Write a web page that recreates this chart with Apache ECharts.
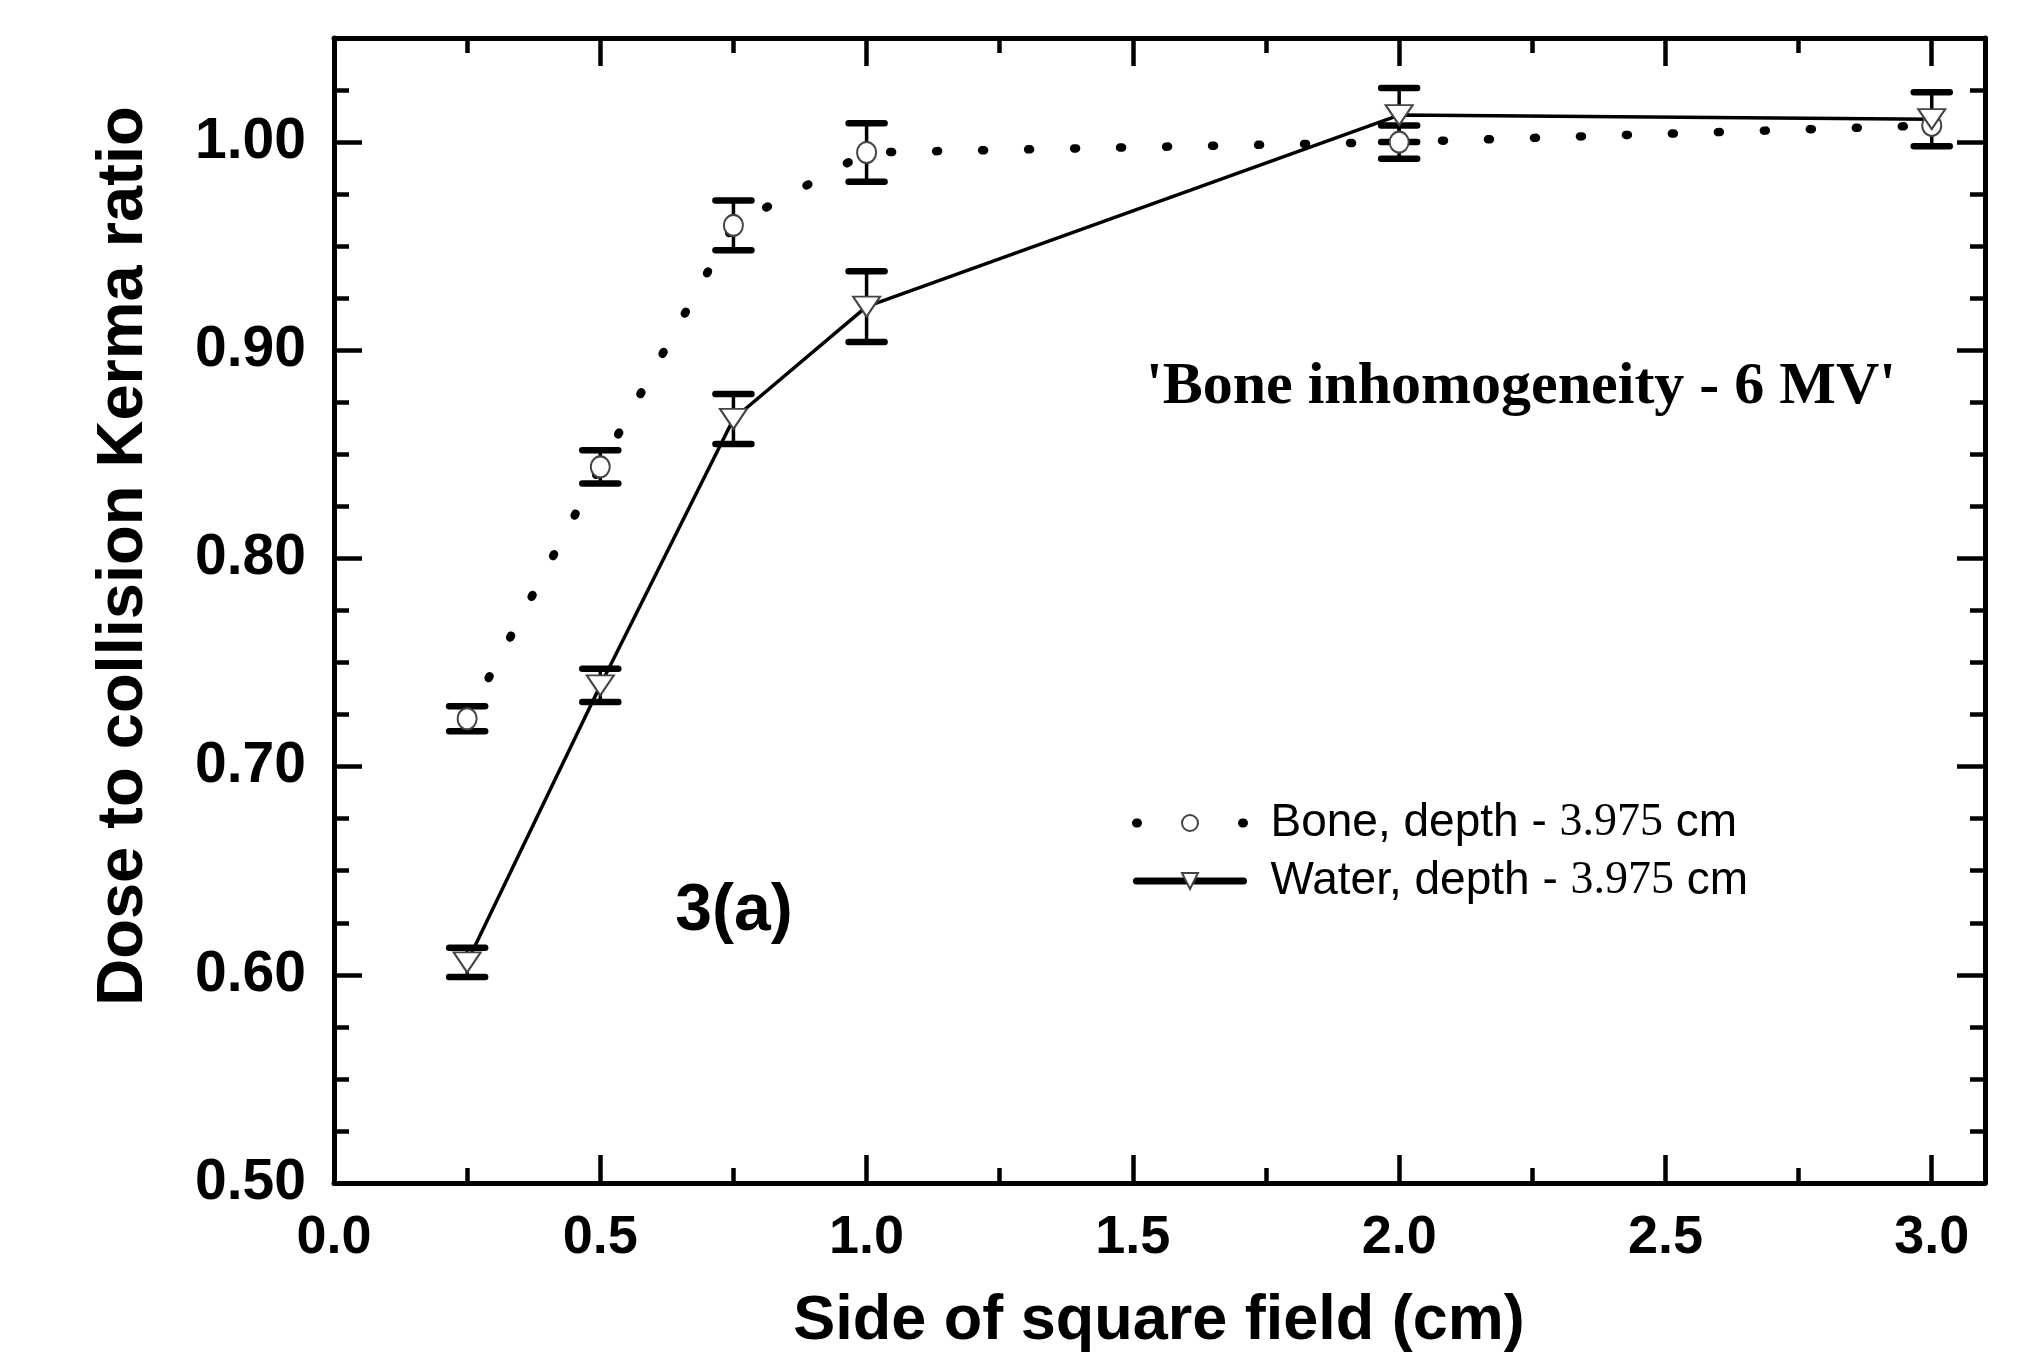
<!DOCTYPE html>
<html><head><meta charset="utf-8">
<script src="https://cdn.jsdelivr.net/npm/echarts@6/dist/echarts.min.js"></script>
<style>html,body{margin:0;padding:0;background:#fff}#c{width:2028px;height:1356px}</style>
</head><body><div id="c"></div>
<script>
// ---- data ----
const fieldSizes = [0.25, 0.5, 0.75, 1.0, 2.0, 3.0];
const boneRatio  = [0.723, 0.844, 0.960, 0.995, 1.000, 1.008];
const boneErr    = [0.006, 0.008, 0.012, 0.014, 0.008, null];
const waterRatio = [0.606, 0.739, 0.867, 0.921, 1.013, 1.011];
const waterErr   = [0.007, 0.008, 0.012, 0.017, 0.013, 0.013];
const seriesNames = ['Bone', 'Water'];
const depthCm = '3.975';
const xTickLabels = ['0.0', '0.5', '1.0', '1.5', '2.0', '2.5', '3.0'];
const yTickLabels = ['0.50', '0.60', '0.70', '0.80', '0.90', '1.00'];
const xTitle = 'Side of square field (cm)';
const yTitle = 'Dose to collision Kerma ratio';
const annotation = "'Bone inhomogeneity - 6 MV'";
const panelLabel = '3(a)';

const SANS = '"Liberation Sans", Arial, sans-serif';
const SERIF = '"Liberation Serif", "Times New Roman", serif';

function xAxisDef(position, interval, tickLen, withLine, withLabels) {
  return {
    type: 'value', position, min: 0, max: 3.1, interval,
    splitLine: { show: false },
    axisLine: { show: withLine, onZero: false, lineStyle: { color: '#000', width: 5 } },
    axisTick: { show: true, inside: true, length: tickLen, lineStyle: { color: '#000', width: 4.5 } },
    axisLabel: withLabels ? {
      show: true, margin: 28, showMaxLabel: false, color: '#000',
      fontFamily: SANS, fontWeight: 'bold', fontSize: 54,
      formatter: v => { const i = Math.round(v / 0.5); return xTickLabels[i] || ''; }
    } : { show: false }
  };
}
function yAxisDef(position, interval, tickLen, withLine, withLabels) {
  return {
    type: 'value', position, min: 0.5, max: 1.05, interval,
    splitLine: { show: false },
    axisLine: { show: withLine, onZero: false, lineStyle: { color: '#000', width: 5 } },
    axisTick: { show: true, inside: true, length: tickLen, lineStyle: { color: '#000', width: 4.5 } },
    axisLabel: withLabels ? {
      show: true, margin: 28, showMaxLabel: false, color: '#000',
      fontFamily: SANS, fontWeight: 'bold', fontSize: 57,
      formatter: v => { const i = Math.round((v - 0.5) / 0.1); return yTickLabels[i] || ''; }
    } : { show: false }
  };
}

function errorSeries(name, ys, errs) {
  const data = [];
  fieldSizes.forEach((x, i) => { if (errs[i] != null) data.push([x, ys[i] - errs[i], ys[i] + errs[i]]); });
  return {
    type: 'custom', name: name + ' error', data, z: 2, silent: true,
    encode: { x: 0, y: [1, 2] },
    renderItem: (params, api) => {
      const x = api.value(0), lo = api.value(1), hi = api.value(2);
      const t = api.coord([x, hi]), b = api.coord([x, lo]);
      const hw = 18;
      return { type: 'group', children: [
        { type: 'line', shape: { x1: t[0], y1: t[1], x2: b[0], y2: b[1] }, style: { stroke: '#000', lineWidth: 3.5 } },
        { type: 'line', shape: { x1: t[0] - hw, y1: t[1], x2: t[0] + hw, y2: t[1] }, style: { stroke: '#000', lineWidth: 6.5, lineCap: 'round' } },
        { type: 'line', shape: { x1: b[0] - hw, y1: b[1], x2: b[0] + hw, y2: b[1] }, style: { stroke: '#000', lineWidth: 6.5, lineCap: 'round' } }
      ]};
    }
  };
}

const chart = echarts.init(document.getElementById('c'), null, { renderer: 'canvas' });
chart.setOption({
  animation: false,
  backgroundColor: '#fff',
  grid: { left: 334, right: 43, top: 38, bottom: 173, containLabel: false },
  xAxis: [
    xAxisDef('bottom', 0.5, 28, true, true),
    xAxisDef('bottom', 0.25, 15, false, false),
    xAxisDef('top', 0.5, 28, true, false),
    xAxisDef('top', 0.25, 15, false, false)
  ],
  yAxis: [
    yAxisDef('left', 0.1, 28, true, true),
    yAxisDef('left', 0.025, 15, false, false),
    yAxisDef('right', 0.1, 28, true, false),
    yAxisDef('right', 0.025, 15, false, false)
  ],
  legend: {
    orient: 'vertical', left: 1132, top: 800, padding: 0, itemGap: 12,
    itemWidth: 107, itemHeight: 20, selectedMode: false,
    data: [
      { name: seriesNames[0], lineStyle: { color: '#000', width: 9, type: [1, 52], cap: 'round' } },
      { name: seriesNames[1], lineStyle: { color: '#000', width: 7, type: 'solid', cap: 'round' } }
    ],
    formatter: n => '{s|' + n + ', depth - }{t|' + depthCm + '}{s| cm}',
    textStyle: {
      color: '#000', fontSize: 46, lineHeight: 46, padding: [0, 0, 0, 22],
      rich: {
        s: { fontFamily: SANS, fontSize: 46, lineHeight: 46, color: '#000' },
        t: { fontFamily: SERIF, fontSize: 46, lineHeight: 46, color: '#000' }
      }
    }
  },
  graphic: [
    { type: 'text', x: 124, y: 556, rotation: Math.PI / 2, z: 10,
      style: { text: yTitle, fill: '#000', font: 'bold 65px ' + SANS, align: 'center', verticalAlign: 'middle' } },
    { type: 'text', x: 1159, y: 1322, z: 10,
      style: { text: xTitle, fill: '#000', font: 'bold 63px ' + SANS, align: 'center', verticalAlign: 'middle' } },
    { type: 'text', x: 1521, y: 387, z: 10,
      style: { text: annotation, fill: '#000', font: 'bold 60px ' + SERIF, align: 'center', verticalAlign: 'middle' } },
    { type: 'text', x: 734, y: 912, z: 10,
      style: { text: panelLabel, fill: '#000', font: 'bold 66px ' + SANS, align: 'center', verticalAlign: 'middle' } }
  ],
  series: [
    errorSeries('Bone', boneRatio, boneErr),
    errorSeries('Water', waterRatio, waterErr),
    {
      name: seriesNames[0], type: 'line', z: 3,
      data: fieldSizes.map((x, i) => [x, boneRatio[i]]),
      symbol: 'circle', symbolSize: [19, 21],
      itemStyle: { color: '#fff', borderColor: '#444', borderWidth: 2 },
      lineStyle: { color: '#000', width: 8.5, type: [2, 44], cap: 'round' }
    },
    {
      name: seriesNames[1], type: 'line', z: 3,
      data: fieldSizes.map((x, i) => [x, waterRatio[i]]),
      symbol: 'triangle', symbolRotate: 180, symbolSize: [27, 20],
      itemStyle: { color: '#fff', borderColor: '#444', borderWidth: 2 },
      lineStyle: { color: '#000', width: 3.5 }
    }
  ]
});
</script>
</body></html>
